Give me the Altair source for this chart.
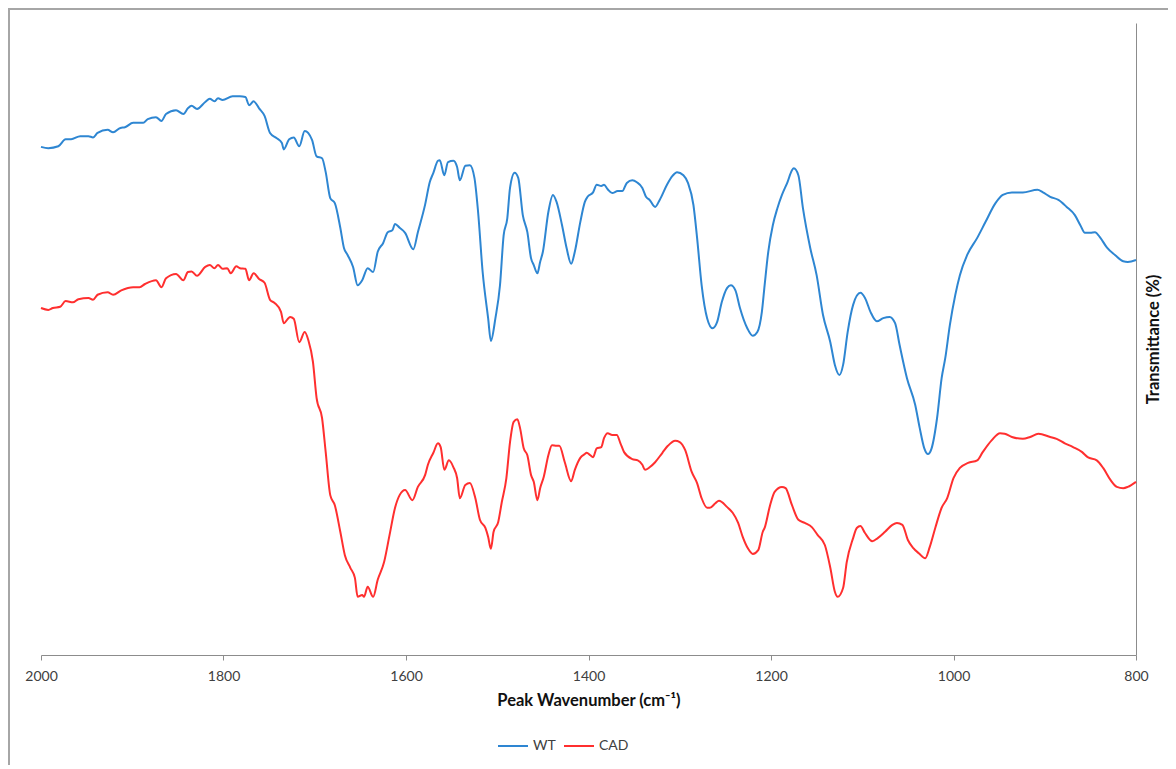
import altair as alt
import pandas as pd

# ---- data (wavenumber cm^-1, transmittance in arbitrary %) ----
wt_wn = [2000, 1992, 1981, 1973, 1967, 1957, 1948, 1943, 1938, 1927, 1921, 1913, 1908, 1899, 1888,
         1883, 1874, 1868, 1863, 1852, 1844, 1839, 1835, 1829, 1820, 1815, 1810, 1806, 1801, 1790,
         1782, 1776, 1772, 1767, 1761, 1755, 1749, 1742, 1736, 1734, 1728, 1723, 1717, 1711, 1703,
         1698, 1692, 1688, 1683, 1678, 1672, 1668, 1664, 1658, 1653, 1648, 1642, 1636, 1631, 1625,
         1620, 1615, 1612, 1607, 1601, 1592, 1587, 1579, 1574, 1570, 1565, 1563, 1558, 1554, 1548,
         1544, 1541, 1535, 1530, 1525, 1521, 1516, 1510, 1507, 1502, 1497, 1493, 1489, 1486, 1481,
         1477, 1472, 1467, 1463, 1460, 1456, 1453, 1450, 1444, 1439, 1435, 1429, 1424, 1419, 1415,
         1409, 1404, 1401, 1395, 1391, 1386, 1383, 1379, 1374, 1368, 1363, 1358, 1352, 1347, 1341,
         1337, 1333, 1327, 1322, 1314, 1308, 1303, 1296, 1291, 1285, 1281, 1276, 1270, 1264, 1259,
         1254, 1248, 1244, 1239, 1234, 1226, 1220, 1215, 1210, 1207, 1203, 1198, 1193, 1188, 1182,
         1177, 1175, 1170, 1165, 1157, 1150, 1143, 1135, 1130, 1125, 1121, 1116, 1110, 1102, 1097,
         1091, 1084, 1077, 1070, 1064, 1059, 1051, 1042, 1037, 1032, 1028, 1024, 1018, 1013, 1009,
         1004, 998, 993, 985, 974, 965, 954, 946, 936, 924, 908, 902, 894, 885, 876,
         867, 861, 856, 850, 845, 839, 832, 823, 814, 809, 800]
wt_t = [80.4, 80.2, 80.5, 81.6, 81.6, 82.1, 82.1, 81.9, 82.6, 83.1, 82.7, 83.4, 83.5, 84.2, 84.2,
        84.8, 85.1, 84.5, 85.6, 86.2, 85.6, 86.5, 86.9, 86.4, 87.5, 88.0, 87.6, 88.1, 87.8, 88.4,
        88.4, 88.3, 87.0, 87.6, 86.5, 85.3, 82.6, 81.8, 81.0, 80.0, 81.6, 81.9, 80.5, 82.9, 81.5,
        78.9, 78.6, 76.4, 72.3, 71.5, 67.6, 64.4, 63.3, 61.4, 58.5, 59.3, 61.2, 60.6, 63.8, 65.2,
        66.9, 67.2, 68.2, 67.6, 66.8, 64.2, 66.9, 71.3, 74.8, 76.3, 78.2, 78.3, 75.9, 78.0, 78.2,
        77.2, 75.1, 77.4, 77.5, 75.5, 70.1, 60.6, 53.3, 49.7, 53.3, 58.5, 66.4, 69.1, 73.9, 76.3,
        75.5, 69.6, 66.9, 62.8, 61.7, 60.4, 62.2, 63.8, 70.1, 72.8, 71.7, 68.0, 64.4, 61.9, 63.8,
        68.5, 71.7, 72.5, 73.2, 74.4, 74.2, 74.4, 73.7, 73.1, 73.4, 73.4, 74.7, 75.1, 74.8, 73.9,
        72.5, 72.0, 70.9, 72.0, 74.4, 75.8, 76.4, 75.9, 74.7, 71.2, 66.0, 58.5, 53.3, 51.7, 52.7,
        55.8, 58.1, 58.5, 57.7, 54.9, 51.7, 50.5, 51.1, 54.3, 58.5, 63.8, 68.0, 70.7, 72.8, 74.8,
        76.7, 77.0, 75.9, 70.7, 64.4, 60.1, 53.8, 49.5, 45.9, 44.3, 45.9, 51.1, 55.4, 57.3, 56.5,
        54.3, 52.8, 53.3, 53.5, 52.5, 49.0, 43.8, 39.6, 35.9, 32.7, 31.8, 32.7, 37.5, 43.8, 47.0,
        52.2, 57.0, 60.1, 63.3, 66.0, 68.5, 71.5, 72.8, 73.2, 73.2, 73.6, 73.2, 72.5, 72.0, 70.9,
        69.6, 68.0, 66.8, 66.8, 66.9, 66.0, 64.5, 63.3, 62.3, 62.2, 62.5]

cad_wn = [2000, 1992, 1987, 1979, 1973, 1965, 1959, 1948, 1943, 1938, 1927, 1921, 1912, 1899, 1892,
          1886, 1874, 1868, 1863, 1852, 1844, 1839, 1835, 1829, 1820, 1815, 1810, 1806, 1801, 1796,
          1792, 1786, 1782, 1776, 1772, 1767, 1761, 1755, 1749, 1744, 1737, 1734, 1727, 1723, 1717,
          1711, 1707, 1702, 1698, 1692, 1688, 1683, 1678, 1672, 1667, 1661, 1656, 1653, 1648, 1646,
          1642, 1636, 1631, 1624, 1618, 1612, 1607, 1601, 1593, 1587, 1579, 1576, 1570, 1565, 1562,
          1558, 1553, 1548, 1544, 1541, 1535, 1530, 1524, 1519, 1513, 1510, 1507, 1504, 1499, 1495,
          1490, 1486, 1482, 1478, 1475, 1471, 1467, 1463, 1460, 1456, 1453, 1449, 1444, 1440, 1435,
          1432, 1426, 1419, 1415, 1409, 1404, 1402, 1398, 1395, 1391, 1386, 1383, 1379, 1374, 1369,
          1365, 1361, 1352, 1346, 1341, 1338, 1333, 1327, 1319, 1313, 1305, 1300, 1294, 1287, 1281,
          1276, 1270, 1267, 1261, 1257, 1248, 1242, 1236, 1231, 1225, 1220, 1214, 1209, 1207, 1201,
          1196, 1188, 1184, 1177, 1170, 1163, 1155, 1149, 1141, 1135, 1130, 1127, 1121, 1117, 1110,
          1106, 1102, 1097, 1089, 1083, 1075, 1067, 1062, 1056, 1050, 1044, 1038, 1031, 1026, 1020,
          1013, 1007, 1000, 993, 984, 974, 968, 958, 949, 944, 936, 924, 916, 907, 894,
          887, 878, 869, 859, 853, 843, 836, 828, 821, 814, 809, 800]
cad_t = [54.9, 54.6, 54.9, 55.1, 56.0, 55.8, 56.3, 56.5, 56.2, 57.0, 57.4, 57.0, 57.7, 58.2, 58.2,
         58.7, 59.3, 58.2, 59.6, 60.3, 59.3, 60.6, 60.7, 60.0, 61.4, 61.7, 61.2, 61.7, 61.1, 61.2,
         60.4, 61.5, 61.2, 61.1, 59.3, 60.4, 59.5, 58.9, 56.2, 55.7, 54.3, 52.5, 53.5, 53.2, 49.5,
         51.1, 49.8, 46.4, 40.7, 37.5, 32.1, 25.3, 23.7, 19.5, 15.8, 13.8, 12.2, 9.2, 9.5, 9.2,
         10.8, 9.2, 11.9, 14.7, 19.0, 23.3, 25.3, 26.1, 24.5, 26.6, 28.5, 30.1, 32.0, 33.5, 32.9,
         29.3, 30.8, 29.7, 28.0, 24.8, 26.9, 27.2, 24.8, 21.4, 20.1, 18.7, 16.8, 19.5, 21.0, 24.2,
         28.0, 33.7, 36.9, 37.3, 35.9, 32.7, 31.6, 28.5, 27.4, 24.5, 26.4, 28.2, 31.6, 33.2, 33.1,
         33.1, 30.5, 27.5, 29.3, 31.2, 31.8, 32.0, 31.6, 31.3, 32.7, 32.9, 34.3, 35.1, 34.8, 34.8,
         33.5, 32.1, 31.0, 30.8, 30.1, 29.3, 29.7, 30.5, 32.0, 33.1, 33.9, 33.7, 32.4, 29.0, 27.2,
         24.8, 23.3, 23.3, 24.0, 24.4, 23.4, 22.5, 20.9, 18.7, 16.8, 16.0, 16.6, 19.5, 20.1, 23.7,
         25.8, 26.6, 26.4, 23.7, 21.4, 20.9, 20.2, 19.0, 17.4, 13.8, 10.0, 9.2, 10.6, 14.7, 18.5,
         20.1, 20.4, 19.3, 18.0, 18.5, 19.5, 20.6, 20.9, 20.6, 18.2, 16.9, 16.1, 15.3, 17.1, 20.1,
         23.3, 24.8, 28.0, 29.6, 30.4, 30.8, 32.1, 34.0, 35.1, 35.0, 34.5, 34.2, 34.5, 35.0, 34.5,
         34.2, 33.5, 32.9, 32.1, 31.3, 30.8, 29.6, 27.7, 26.6, 26.4, 26.6, 27.4]

series_names = ["WT", "CAD"]
series_colors = ["#2E86D2", "#FF2F2F"]
x_ticks = [2000, 1800, 1600, 1400, 1200, 1000, 800]

rows = []
for wn, t in zip(wt_wn, wt_t):
    rows.append({"wn": wn, "t": t, "series": "WT", "order": 0})
for wn, t in zip(cad_wn, cad_t):
    rows.append({"wn": wn, "t": t, "series": "CAD", "order": 1})
df = pd.DataFrame(rows)

FONT = "Lato"

lines = alt.Chart(df).mark_line(strokeWidth=2, interpolate="monotone").encode(
    x=alt.X("wn:Q",
            scale=alt.Scale(domain=[800, 2000], reverse=True, nice=False, zero=False),
            axis=alt.Axis(values=x_ticks, format="d", grid=False, labelFlush=False,
                          title="Peak Wavenumber (cm⁻¹)",
                          domainColor="#8c8c8c", tickColor="#8c8c8c", tickSize=5,
                          labelFont=FONT, labelFontSize=14, labelColor="#404040",
                          labelPadding=9,
                          titleFont=FONT, titleFontSize=16.5, titleFontWeight="bold",
                          titleColor="#111111", titlePadding=9)),
    y=alt.Y("t:Q",
            scale=alt.Scale(domain=[0, 100], nice=False, zero=False),
            axis=alt.Axis(orient="right", labels=False, ticks=False, grid=False,
                          title="Transmittance (%)", titleAngle=270, titleBaseline="top",
                          domainColor="#8c8c8c",
                          titleFont=FONT, titleFontSize=16.5, titleFontWeight="bold",
                          titleColor="#111111", titlePadding=9)),
    color=alt.Color("series:N",
                    scale=alt.Scale(domain=series_names, range=series_colors),
                    legend=alt.Legend(title=None, orient="none", direction="horizontal",
                                      legendX=456, legendY=707,
                                      symbolType="stroke", symbolSize=900,
                                      symbolStrokeWidth=2, labelFont=FONT,
                                      labelFontSize=14, labelColor="#404040",
                                      columnPadding=4, labelOffset=4)),
    detail="series:N",
    order="order:Q",
)

frame = alt.Chart(alt.Data(values=[{"a": 1}])).mark_rect(
    filled=False, stroke="#a6a6a6", strokeWidth=2, clip=False
).encode(
    x=alt.value(-32),
    y=alt.value(-14),
    x2=alt.value(1200),
    y2=alt.value(800),
)

chart = alt.layer(frame, lines).properties(
    width=1095,
    height=632,
    padding={"left": 33, "top": 15, "right": 32, "bottom": 110},
    autosize="none",
).configure_view(stroke=None)

chart.save("out.html", embed_options={"renderer": "svg", "actions": False})
